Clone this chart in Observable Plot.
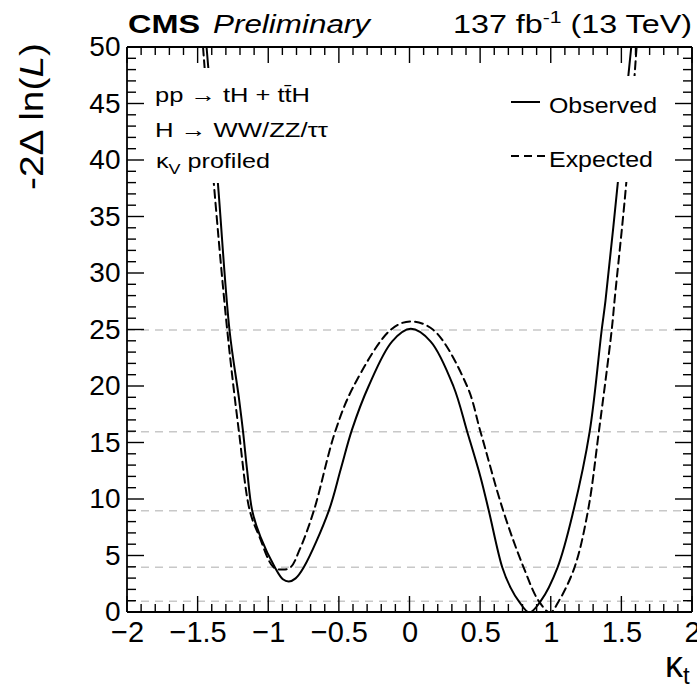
<!DOCTYPE html>
<html><head><meta charset="utf-8">
<script src="https://cdn.jsdelivr.net/npm/d3@7"></script>
<script src="https://cdn.jsdelivr.net/npm/@observablehq/plot@0.6"></script>
<style>body{margin:0;background:#fff;} svg{display:block}</style>
</head><body><div id="chart"></div>
<script>
// ---- data ----
const observedK = [-1.44, -1.43, -1.36, -1.278, -1.212, -1.182, -1.153, -1.117, -1.058, -0.957, -0.90, -0.858, -0.81, -0.752, -0.575, -0.49, -0.41, -0.294, -0.126, 0.005, 0.145, 0.308, 0.405, 0.499, 0.558, 0.653, 0.712, 0.77, 0.845, 0.925, 1.045, 1.157, 1.272, 1.357, 1.384, 1.471, 1.545, 1.566];
const observedY = [50, 48.5, 38, 25, 19.05, 16, 12.57, 9, 6.67, 4, 2.94, 2.74, 3.02, 4, 9, 12.7, 16.2, 20, 24, 25.1, 24, 20, 16, 12, 9, 4, 2.2, 1, 0, 1, 4, 9, 16, 25, 27.6, 38, 47.4, 50];
const expectedK = [-1.465, -1.389, -1.294, -1.211, -1.134, -1.066, -0.966, -0.90, -0.846, -0.78, -0.681, -0.53, -0.40, -0.138, 0.0, 0.166, 0.405, 0.499, 0.66, 0.804, 0.912, 0.992, 1.053, 1.165, 1.26, 1.337, 1.428, 1.448, 1.531, 1.604];
const expectedY = [50, 38, 25, 16, 9, 6.7, 4, 3.8, 4, 5.6, 9, 16, 20, 25, 25.75, 25, 20, 16, 9, 4, 1, 0, 1, 4, 9, 16, 25, 27.6, 38, 50];
const sigmaLevels = [1, 4, 9, 16, 25];
const xMajor = [-2, -1.5, -1, -0.5, 0, 0.5, 1, 1.5, 2];
const xTickLabels = ["\u22122", "\u22121.5", "\u22121", "\u22120.5", "0", "0.5", "1", "1.5", "2"];
const yMajor = [0, 5, 10, 15, 20, 25, 30, 35, 40, 45, 50];
const yTickLabels = ["0", "5", "10", "15", "20", "25", "30", "35", "40", "45", "50"];

// ---- layout ----
const W = 697, H = 688, mL = 127, mR = 5, mT = 47, mB = 76;
const pxY = (H - mT - mB) / 50;
const font = "'Liberation Sans', Arial, Helvetica, sans-serif";

const observed = observedK.map((k, i) => ({k, y: observedY[i]}));
const expected = expectedK.map((k, i) => ({k, y: expectedY[i]}));
const xMinor = d3.range(-20, 21).map(i => i / 10).filter(v => Math.abs(v * 2 - Math.round(v * 2)) > 1e-6);
const yMinor = d3.range(0, 51).filter(v => v % 5 !== 0);

// white boxes behind the text blocks (in data units)
const boxes = [
  {x1: -1.87, x2: -0.56, y1: (H - mB - 183) / pxY, y2: (H - mB - 68) / pxY},
  {x1: 0.60, x2: 1.87, y1: (H - mB - 182) / pxY, y2: (H - mB - 76) / pxY}
];

const svg = Plot.plot({
  width: W, height: H, marginLeft: mL, marginRight: mR, marginTop: mT, marginBottom: mB,
  style: {fontFamily: font, background: "white", overflow: "visible", color: "black"},
  x: {domain: [-2, 2]},
  y: {domain: [0, 50]},
  marks: [
    Plot.ruleY(sigmaLevels, {y: d => d, stroke: "#c8c8c8", strokeWidth: 1.5, strokeDasharray: "8,6"}),
    Plot.line(expected, {x: "k", y: "y", curve: "catmull-rom", stroke: "black", strokeWidth: 2, strokeDasharray: "8,5", clip: true}),
    Plot.line(observed, {x: "k", y: "y", curve: "catmull-rom", stroke: "black", strokeWidth: 2, clip: true}),
    Plot.rect(boxes, {x1: "x1", x2: "x2", y1: "y1", y2: "y2", fill: "white"}),
    Plot.axisX(xMajor, {anchor: "bottom", tickSize: 0, tickPadding: 9, label: null,
      tickFormat: d => xTickLabels[xMajor.indexOf(d)], fontSize: 29, fill: "black", textAnchor: "middle"}),
    Plot.axisY(yMajor, {anchor: "left", tickSize: 0, tickPadding: 7, label: null,
      tickFormat: d => yTickLabels[yMajor.indexOf(d)], fontSize: 28, fill: "black"})
  ]
});
document.getElementById("chart").appendChild(svg);

const s = d3.select(svg);

// ---- annotations ----
function txt(x, y, size, len) {
  const t = s.append("text").attr("x", x).attr("y", y).attr("font-size", size)
    .attr("font-family", font).attr("fill", "black").attr("text-anchor", "start");
  if (len) t.attr("textLength", len).attr("lengthAdjust", "spacingAndGlyphs");
  return t;
}
// header
txt(128, 33, 26, 72).attr("font-weight", "bold").text("CMS");
txt(213, 33, 26, 157).attr("font-style", "italic").text("Preliminary");
{
  const t = txt(453, 33, 26, 239);
  t.append("tspan").text("137 fb");
  t.append("tspan").attr("font-size", 17).attr("dy", -10).text("-1");
  t.append("tspan").attr("dy", 10).text(" (13 TeV)");
}
// y title
{
  const t = s.append("text").attr("transform", "translate(43,43) rotate(-90)")
    .attr("text-anchor", "end").attr("font-size", 34).attr("font-family", font)
    .attr("textLength", 147).attr("lengthAdjust", "spacingAndGlyphs");
  t.append("tspan").text("-2\u0394 ln(");
  t.append("tspan").attr("font-style", "italic").text("L");
  t.append("tspan").text(")");
}
// x title
txt(683, 677, 36).attr("text-anchor", "end").text("\u03BA");
txt(683, 684, 24).text("t");
// info text
txt(155, 102, 21, 155).text("pp \u2192 tH + tt\u0304H");
txt(155, 137, 21, 173).text("H \u2192 WW/ZZ/\u03C4\u03C4");
{
  const t = txt(156, 168, 21, 114);
  t.append("tspan").text("\u03BA");
  t.append("tspan").attr("font-size", 15).attr("dy", 6).text("V");
  t.append("tspan").attr("dy", -6).text(" profiled");
}
// legend
s.append("line").attr("x1", 511).attr("x2", 540).attr("y1", 102).attr("y2", 102)
  .attr("stroke", "black").attr("stroke-width", 2);
s.append("line").attr("x1", 511).attr("x2", 545).attr("y1", 156).attr("y2", 156)
  .attr("stroke", "black").attr("stroke-width", 2).attr("stroke-dasharray", "8,5");
txt(549, 113, 22, 108).text("Observed");
txt(549, 167, 22, 104).text("Expected");

// ---- frame and inward ticks, drawn last, positioned through Plot's scales ----
const sx = svg.scale("x"), sy = svg.scale("y");
const X = v => { const p = sx.apply(v); return Number.isFinite(p) ? p : mL + (v + 2) / 4 * (W - mL - mR); };
const Y = v => { const p = sy.apply(v); return Number.isFinite(p) ? p : (H - mB) - v / 50 * (H - mT - mB); };
const fx0 = X(-2), fx1 = X(2), fy0 = Y(0), fy1 = Y(50);
function seg(xa, ya, xb, yb, w, col) {
  s.append("line").attr("x1", xa).attr("y1", ya).attr("x2", xb).attr("y2", yb)
    .attr("stroke", col).attr("stroke-width", w);
}
for (const [vals, len] of [[xMajor, 16], [xMinor, 8]]) for (const v of vals) {
  seg(X(v), fy0, X(v), fy0 - len, 1.4, "black");
  seg(X(v), fy1, X(v), fy1 + len, 1.4, "black");
}
for (const [vals, len] of [[yMajor, 17], [yMinor, 9]]) for (const v of vals) {
  seg(fx0, Y(v), fx0 + len, Y(v), 1.4, "black");
  seg(fx1, Y(v), fx1 - len, Y(v), 1.4, "black");
}
seg(fx0, fy0, fx1, fy0, 1.8, "black");
seg(fx0, fy1, fx1, fy1, 1.8, "black");
seg(fx0, fy0, fx0, fy1, 1.8, "black");
seg(fx1, fy0, fx1, fy1, 1.8, "black");
</script>
</body></html>
